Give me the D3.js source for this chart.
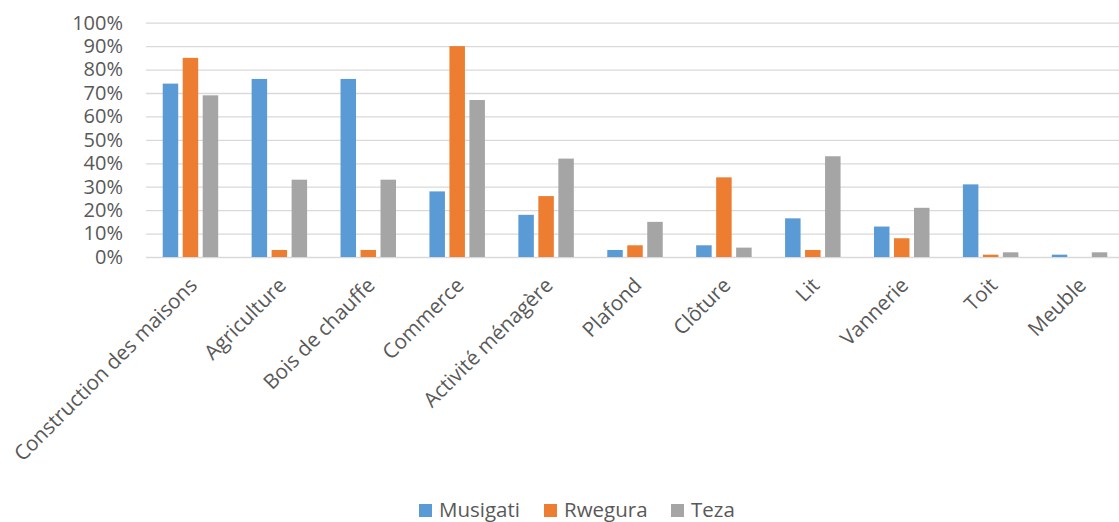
<!DOCTYPE html>
<html lang="fr">
<head>
<meta charset="utf-8">
<script src="https://cdn.jsdelivr.net/npm/d3@7"></script>
<style>
  html, body { margin: 0; padding: 0; background: #fff; }
  svg text { font-family: "Open Sans", "Noto Sans", sans-serif; }
</style>
</head>
<body>
<svg id="chart" width="1119" height="522"></svg>
<script>
// Usages du bois par site (part des répondants)
const categories = [
  "Construction des maisons", "Agriculture", "Bois de chauffe", "Commerce",
  "Activité ménagère", "Plafond", "Clôture", "Lit", "Vannerie", "Toit", "Meuble"
];
const seriesNames = ["Musigati", "Rwegura", "Teza"];
const musigati = [0.74, 0.76, 0.76, 0.28, 0.18, 0.03, 0.05, 0.165, 0.13, 0.31, 0.01];
const rwegura  = [0.85, 0.03, 0.03, 0.90, 0.26, 0.05, 0.34, 0.03, 0.08, 0.01, 0.00];
const teza     = [0.69, 0.33, 0.33, 0.67, 0.42, 0.15, 0.04, 0.43, 0.21, 0.02, 0.02];
const yTicks   = [0, 0.1, 0.2, 0.3, 0.4, 0.5, 0.6, 0.7, 0.8, 0.9, 1.0];
const colors   = ["#5B9BD5", "#ED7D31", "#A5A5A5"];

const FONT = '"Open Sans", "Noto Sans", sans-serif';
const seriesValues = [musigati, rwegura, teza];
const rows = categories.map((c, i) => ({
  cat: c,
  values: seriesNames.map((s, k) => ({ key: s, value: seriesValues[k][i] }))
}));

const svg = d3.select("#chart");
const plot = { left: 146, right: 1124, top: 22.7, bottom: 257 };

const x0 = d3.scaleBand()
  .domain(categories)
  .range([plot.left, plot.right])
  .paddingInner(0.376)
  .paddingOuter(0.188);

const x1 = d3.scaleBand()
  .domain(seriesNames)
  .range([0, x0.bandwidth()])
  .paddingInner(0.225);

const y = d3.scaleLinear().domain([0, 1]).range([plot.bottom, plot.top]);
const color = d3.scaleOrdinal().domain(seriesNames).range(colors);

// Gridlines and percentage labels
const yAxis = svg.append("g")
  .attr("transform", `translate(${plot.left},0)`)
  .call(d3.axisLeft(y)
    .tickValues(yTicks)
    .tickFormat(d3.format(".0%"))
    .tickSizeInner(-(1119 - plot.left))
    .tickSizeOuter(0)
    .tickPadding(23))
  .attr("font-family", FONT)
  .attr("font-size", 20);
yAxis.select(".domain").remove();
yAxis.selectAll(".tick line").attr("stroke", "#D9D9D9").attr("stroke-width", 1.3);
yAxis.selectAll(".tick text").attr("fill", "#595959");

// Grouped bars
const groups = svg.append("g")
  .selectAll("g")
  .data(rows)
  .join("g")
  .attr("transform", d => `translate(${x0(d.cat)},0)`);

groups.selectAll("rect")
  .data(d => d.values)
  .join("rect")
  .attr("x", d => x1(d.key))
  .attr("y", d => y(d.value))
  .attr("width", x1.bandwidth())
  .attr("height", d => y(0) - y(d.value))
  .attr("fill", d => color(d.key));

// Category labels, rotated
const xAxis = svg.append("g")
  .attr("transform", `translate(0,${plot.bottom})`)
  .call(d3.axisBottom(x0).tickSize(0))
  .attr("font-family", FONT)
  .attr("font-size", 20.6);
xAxis.select(".domain").remove();
xAxis.selectAll(".tick text")
  .attr("x", 0).attr("y", 0).attr("dy", 0)
  .attr("transform", "translate(8,29.5) rotate(-45)")
  .style("text-anchor", "end")
  .attr("fill", "#595959");

// Legend
const legend = svg.append("g")
  .attr("transform", "translate(419,504)")
  .attr("font-family", FONT)
  .attr("font-size", 20.5);
const legendX = [0, 125, 252];
seriesNames.forEach((s, i) => {
  const g = legend.append("g").attr("transform", `translate(${legendX[i]},0)`);
  g.append("rect").attr("width", 13).attr("height", 13).attr("fill", color(s));
  g.append("text")
    .attr("x", 20).attr("y", 13)
    .attr("fill", "#595959")
    .text(s);
});
</script>
</body>
</html>
